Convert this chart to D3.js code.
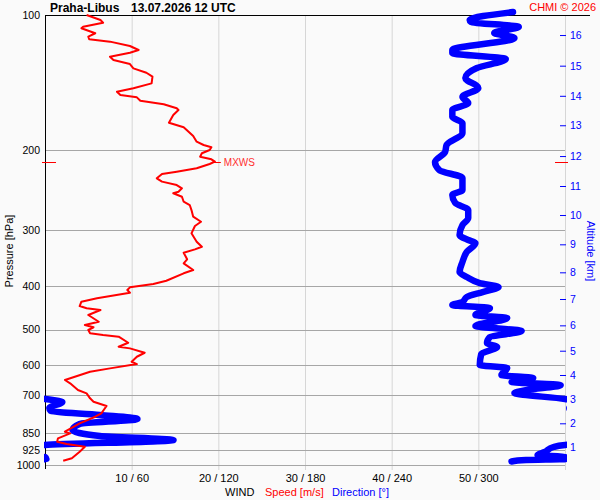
<!DOCTYPE html>
<html>
<head>
<meta charset="utf-8">
<script src="https://cdn.jsdelivr.net/npm/d3@7"></script>
<style>
  body { margin: 0; background: #fafafa; }
  text { font-family: "Liberation Sans", Arial, sans-serif; }
</style>
</head>
<body>
<script>
// ---- data read off the sounding ----
// wind speed profile [m/s] at pressure levels [hPa]
var speedLevels = [100, 102.6, 104.0, 106.2, 107.0, 109.8, 111.7, 113.2, 114.6, 117.2,
  119.6, 121.3, 123.8, 125.9, 128.5, 131.4, 134.4, 137.1, 141.9, 145.5,
  148.1, 150.6, 152.4, 155.1, 157.9, 161.2, 162.6, 166.8, 173.5, 177.6,
  185.7, 191.2, 194.5, 196.8, 199.5, 202.9, 206.5, 209.3, 211.8, 214.3,
  219.1, 222.9, 225.6, 230.6, 234.6, 238.7, 242.7, 247.0, 249.0, 253.4,
  260.0, 264.4, 271.3, 280.7, 288.0, 294.4, 305.6, 319.0, 327.3, 331.7,
  337.5, 349.1, 356.3, 368.8, 375.0, 389.5, 396.1, 402.9, 408.4, 414.1,
  426.1, 433.6, 443.3, 448.5, 452.5, 464.2, 480.4, 488.6, 494.4, 501.2,
  509.7, 514.2, 518.6, 535.0, 546.0, 550.6, 563.1, 574.7, 589.6, 596.6,
  609.9, 620.5, 647.4, 658.4, 681.3, 693.0, 711.0, 723.4, 739.5, 767.6,
  781.1, 807.9, 843.4, 850.4, 872.4, 887.7, 898.3, 910.8, 934.4, 966.3, 978.2];
var speedValues = [4.8, 6.4, 6.7, 4.4, 4.2, 5.8, 5.0, 5.1, 7.5, 9.8,
  10.8, 9.8, 7.5, 7.9, 9.8, 10.2, 11.7, 12.4, 12.3, 10.2,
  8.3, 8.7, 10.6, 11.0, 13.7, 15.2, 15.4, 14.8, 14.3, 16.0,
  17.1, 17.5, 18.3, 19.2, 19.0, 18.1, 17.9, 19.2, 19.6, 19.0,
  17.5, 15.2, 13.5, 12.9, 13.5, 15.2, 15.8, 15.4, 14.8, 15.8,
  16.0, 16.7, 16.9, 17.1, 18.0, 17.3, 16.9, 17.5, 18.1, 17.3,
  16.0, 16.4, 16.0, 17.1, 16.0, 14.0, 12.5, 9.8, 9.5, 9.8,
  6.0, 4.2, 4.0, 4.8, 6.4, 5.0, 6.2, 4.6, 5.6, 5.0,
  5.2, 6.7, 8.5, 9.6, 8.5, 9.8, 11.5, 10.6, 10.0, 10.6,
  7.5, 5.2, 2.3, 2.9, 3.8, 4.8, 5.2, 5.6, 7.1, 6.5,
  5.8, 4.0, 2.3, 2.9, 1.5, 1.4, 2.5, 4.6, 4.0, 3.1, 2.1];

// wind direction profile [deg] at pressure levels [hPa]
var dirLevels = [98.5, 102.6, 103.6, 106.3, 109.6, 112.5, 119.6, 121.5, 125.3, 131.2,
  138.0, 145.3, 152.1, 156.9, 162.6, 168.5, 173.8, 182.9, 194.5, 201.6,
  212.2, 221.1, 230.3, 244.8, 251.2, 261.6, 271.3, 282.6, 292.9, 308.3,
  316.2, 321.1, 336.2, 353.9, 372.5, 382.2, 394.1, 402.3, 412.7, 423.4,
  434.4, 441.1, 447.9, 464.2, 471.4, 491.1, 503.9, 519.6, 535.8, 546.9,
  566.9, 599.6, 608.9, 631.0, 640.8, 654.0, 664.1, 681.3, 691.8, 713.3,
  724.4, 747.0, 758.6, 774.3, 790.3, 810.8, 836.0, 862.0, 880.0, 902.7,
  912.0, 935.6, 950.0, 959.9, 969.8, 975.0, 982.0];
var dirValues = [324, 294, 295, 328, 311, 325, 282, 282, 319, 299,
  291, 300, 289, 293, 282, 282, 289, 289, 278, 277,
  270, 273, 289, 289, 282, 284, 293, 293, 289, 287,
  293, 298, 292, 289, 287, 292, 301, 314, 303, 292,
  289, 282, 308, 298, 320, 298, 330, 308, 306, 313,
  302, 301, 320, 316, 338, 323, 357, 334, 325, 360,
  12, 3, 4, 38, 64, 24, 19, 38, 89, 0,
  352, 346, 341, 360, 1, 333, 323];

// maximum wind
var maxWindLevel = 212;
var maxWindSpeed = 19.6;

// axis ticks
var pressureTicks = [100, 200, 300, 400, 500, 600, 700, 850, 925, 1000];
var speedTicks = [10, 20, 30, 40, 50];
var dirTicks = [60, 120, 180, 240, 300];
var altitudeKm = [1, 2, 3, 4, 5, 6, 7, 8, 9, 10, 11, 12, 13, 14, 15, 16];
var altitudeLevels = [910.8, 807.9, 714.5, 631.0, 557.2, 489.4, 427.7, 373.1,
  323.3, 278.3, 239.9, 205.8, 175.8, 151.2, 129.6, 110.8];

// ---- layout ----
var svgWidth = 600;
var svgHeight = 500;
var margin = {top: 15, right: 35, bottom: 35, left: 45};
var chartWidth = svgWidth - margin.left - margin.right;
var chartHeight = svgHeight - margin.top - margin.bottom;

var svg = d3.select("body")
  .append("svg")
  .attr("width", svgWidth)
  .attr("height", svgHeight)
  .style("background", "#fafafa");

var chartGroup = svg.append("g")
  .attr("transform", `translate(${margin.left}, ${margin.top})`);

// scales
var yScale = d3.scaleLog().domain([100, 1000]).range([0, chartHeight]);
var xSpeed = d3.scaleLinear().domain([0, 60]).range([0, chartWidth]);
var xDir = d3.scaleLinear().domain([0, 360]).range([0, chartWidth]);

// vertical grid (speed / direction)
chartGroup.selectAll(".vgrid")
  .data(speedTicks.concat([60]))
  .enter()
  .append("line")
  .attr("x1", d => xSpeed(d) + 0.5)
  .attr("x2", d => xSpeed(d) + 0.5)
  .attr("y1", 0)
  .attr("y2", chartHeight + 5)
  .attr("stroke", "#d6d6d6");

// horizontal grid (pressure)
chartGroup.selectAll(".hgrid")
  .data(pressureTicks.slice(1))
  .enter()
  .append("line")
  .attr("x1", 0)
  .attr("x2", chartWidth)
  .attr("y1", d => Math.round(yScale(d)) + 0.5)
  .attr("y2", d => Math.round(yScale(d)) + 0.5)
  .attr("stroke", "#a6a6a6");

// frame: top line and left axis line
chartGroup.append("line")
  .attr("x1", 0).attr("x2", chartWidth + 25)
  .attr("y1", yScale(100) + 0.5).attr("y2", yScale(100) + 0.5)
  .attr("stroke", "#000");
chartGroup.append("line")
  .attr("x1", 0.5).attr("x2", 0.5)
  .attr("y1", 0).attr("y2", chartHeight + 4)
  .attr("stroke", "#000");

// left pressure axis
var leftAxis = d3.axisLeft(yScale)
  .tickValues(pressureTicks)
  .tickSize(0)
  .tickPadding(5)
  .tickFormat(d3.format("d"));
var yAxis = chartGroup.append("g").call(leftAxis);
yAxis.select(".domain").remove();
yAxis.selectAll("text")
  .attr("font-size", 10.5)
  .attr("font-family", "Liberation Sans, Arial, sans-serif")
  .attr("fill", "#000");

// bottom wind axis
var bottomAxis = d3.axisBottom(xSpeed)
  .tickValues(speedTicks)
  .tickSize(0)
  .tickPadding(9)
  .tickFormat((d, i) => `${d} / ${dirTicks[i]}`);
var xAxis = chartGroup.append("g")
  .attr("transform", `translate(0, ${chartHeight})`)
  .call(bottomAxis);
xAxis.select(".domain").remove();
xAxis.selectAll("text")
  .attr("font-size", 11)
  .attr("font-family", "Liberation Sans, Arial, sans-serif")
  .attr("fill", "#000");

// right altitude axis
var rightAxis = d3.axisRight(yScale)
  .tickValues(altitudeLevels)
  .tickSizeInner(-6)
  .tickSizeOuter(0)
  .tickPadding(4)
  .tickFormat((d, i) => altitudeKm[i]);
var altAxis = chartGroup.append("g")
  .attr("transform", `translate(${chartWidth + 1}, 0)`)
  .call(rightAxis);
altAxis.select(".domain").remove();
altAxis.selectAll("line").attr("stroke", "#0000ff");
altAxis.selectAll("text")
  .attr("font-size", 10.5)
  .attr("font-family", "Liberation Sans, Arial, sans-serif")
  .attr("fill", "#0000ff");

// clip for the direction trace
svg.append("defs").append("clipPath")
  .attr("id", "plotClip")
  .append("rect")
  .attr("x", -1).attr("y", -15)
  .attr("width", chartWidth + 3).attr("height", chartHeight + 20);

// direction trace, unwrapped across 0/360
var unwrapped = [];
dirValues.forEach(function(d, i) {
  if (i === 0) { unwrapped.push(d); return; }
  var diff = d - dirValues[i - 1];
  if (diff > 180) diff -= 360;
  if (diff < -180) diff += 360;
  unwrapped.push(unwrapped[i - 1] + diff);
});
var dirData = dirLevels.map((p, i) => ({p: p, dir: unwrapped[i]}));

var dirGroup = chartGroup.append("g").attr("clip-path", "url(#plotClip)");
[0, -360].forEach(function(offset) {
  var dirLine = d3.line()
    .curve(d3.curveMonotoneY)
    .x(d => xDir(d.dir + offset))
    .y(d => yScale(d.p));
  dirGroup.append("path")
    .datum(dirData)
    .attr("d", dirLine)
    .attr("fill", "none")
    .attr("stroke", "#0000ff")
    .attr("stroke-width", 6.5)
    .attr("stroke-linejoin", "round")
    .attr("stroke-linecap", "round");
});

// speed trace
var speedData = speedLevels.map((p, i) => ({p: p, speed: speedValues[i]}));
var speedLine = d3.line()
  .x(d => xSpeed(d.speed))
  .y(d => yScale(d.p));
chartGroup.append("path")
  .datum(speedData)
  .attr("d", speedLine)
  .attr("fill", "none")
  .attr("stroke", "#ff0000")
  .attr("stroke-width", 2)
  .attr("stroke-linejoin", "round");

// max wind marks
var yMax = Math.round(yScale(maxWindLevel)) + 0.5;
chartGroup.append("line")
  .attr("x1", -3).attr("x2", 11).attr("y1", yMax).attr("y2", yMax)
  .attr("stroke", "#ff0000");
chartGroup.append("line")
  .attr("x1", chartWidth - 10).attr("x2", chartWidth + 3).attr("y1", yMax).attr("y2", yMax)
  .attr("stroke", "#ff0000");
chartGroup.append("line")
  .attr("x1", xSpeed(maxWindSpeed) - 2).attr("x2", xSpeed(maxWindSpeed) + 6)
  .attr("y1", yMax).attr("y2", yMax)
  .attr("stroke", "#ff0000");
chartGroup.append("text")
  .attr("x", xSpeed(maxWindSpeed) + 9)
  .attr("y", yMax)
  .attr("dy", "0.35em")
  .attr("font-size", 10)
  .attr("fill", "#ff3030")
  .text("MXWS");

// titles
svg.append("text")
  .attr("x", 50).attr("y", 12)
  .attr("font-size", 12).attr("font-weight", "bold")
  .text("Praha-Libus");
svg.append("text")
  .attr("x", 131).attr("y", 12)
  .attr("font-size", 12).attr("font-weight", "bold")
  .text("13.07.2026 12 UTC");
svg.append("text")
  .attr("x", 596).attr("y", 11)
  .attr("text-anchor", "end")
  .attr("font-size", 11)
  .attr("fill", "#ff0000")
  .text("CHMI © 2026");

// axis labels
svg.append("text")
  .attr("transform", "translate(13, 251) rotate(-90)")
  .attr("text-anchor", "middle")
  .attr("font-size", 11)
  .text("Pressure [hPa]");
svg.append("text")
  .attr("transform", "translate(587, 251) rotate(90)")
  .attr("text-anchor", "middle")
  .attr("font-size", 11)
  .attr("fill", "#0000ff")
  .text("Altitude [km]");

var windLabel = svg.append("text")
  .attr("y", 496)
  .attr("font-size", 11);
windLabel.append("tspan").attr("x", 225).attr("fill", "#000").text("WIND");
windLabel.append("tspan").attr("x", 265).attr("fill", "#ff0000").text("Speed [m/s]");
windLabel.append("tspan").attr("x", 332).attr("fill", "#0000ff").text("Direction [°]");
</script>
</body>
</html>
